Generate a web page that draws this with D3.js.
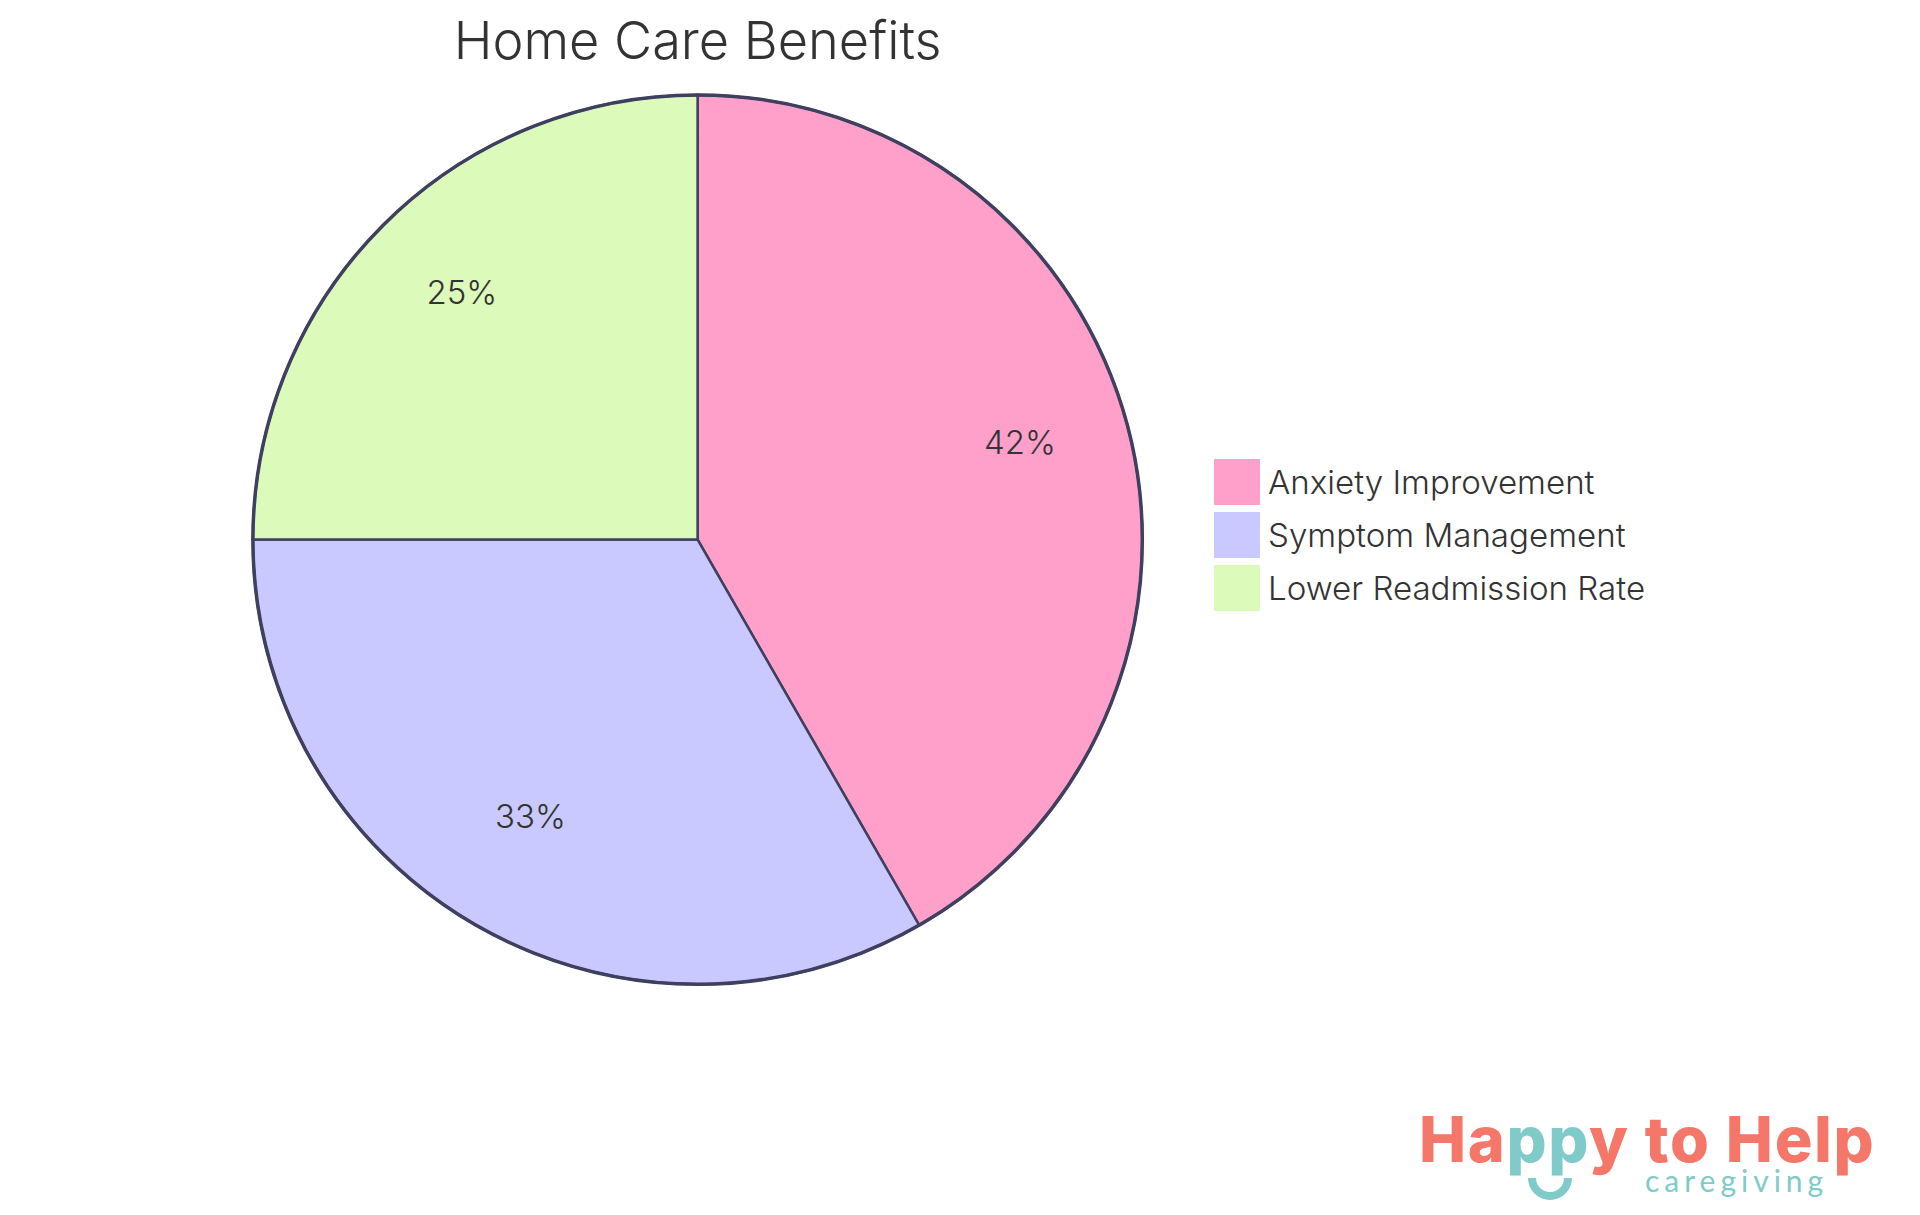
<!DOCTYPE html>
<html>
<head>
<meta charset="utf-8">
<script src="https://cdnjs.cloudflare.com/ajax/libs/d3/7.8.5/d3.min.js"></script>
<style>
	html, body { margin: 0; padding: 0; background: #fff; }
	svg { display: block; }
</style>
</head>
<body>
<script>
var categories = ["Anxiety Improvement", "Symptom Management", "Lower Readmission Rate"];
var shares = [41.7, 33.3, 25];
var sliceColors = ["#FFA0CB", "#C9C9FF", "#DCFABA"];
var titleText = "Home Care Benefits";

var width = 1920, height = 1215;
var cx = 697.6, cy = 539.6, radius = 444.7;
var textFont = "Inter, 'Noto Sans', sans-serif";
var strokeColor = "#3F4060";
var textColor = "#333333";

var svg = d3.select("body").append("svg")
	.attr("width", width)
	.attr("height", height)
	.style("background", "#fff");

// titulo
svg.append("text")
	.attr("x", cx)
	.attr("y", 59)
	.attr("text-anchor", "middle")
	.style("font-family", textFont)
	.style("font-size", "52.3px")
	.style("font-weight", 300)
	.style("fill", textColor)
	.text(titleText);

// tarta
var pie = d3.pie().sort(null).value(function(d){ return d; });
var arc = d3.arc().innerRadius(0).outerRadius(radius);
var labelArc = d3.arc().innerRadius(radius * 0.75).outerRadius(radius * 0.75);

var gPie = svg.append("g").attr("transform", "translate(" + cx + "," + cy + ")");
var arcs = pie(shares);

gPie.selectAll("path.slice")
	.data(arcs)
	.enter()
	.append("path")
	.attr("class", "slice")
	.attr("d", arc)
	.style("fill", function(d, i){ return sliceColors[i]; })
	.style("stroke", strokeColor)
	.style("stroke-width", 2.5);

gPie.append("circle")
	.attr("r", radius)
	.style("fill", "none")
	.style("stroke", strokeColor)
	.style("stroke-width", 3.5);

gPie.selectAll("text.pct")
	.data(arcs)
	.enter()
	.append("text")
	.attr("class", "pct")
	.attr("transform", function(d){ return "translate(" + labelArc.centroid(d) + ")"; })
	.attr("text-anchor", "middle")
	.style("font-family", textFont)
	.style("font-size", "33px")
	.style("font-weight", 300)
	.style("fill", textColor)
	.text(function(d){ return d3.format(".0f")(d.value) + "%"; });

// leyenda
var legendY = d3.scaleBand().domain(categories).range([459, 618]);

var legend = svg.selectAll("g.legend")
	.data(categories)
	.enter()
	.append("g")
	.attr("class", "legend")
	.attr("transform", function(d){ return "translate(1214," + legendY(d) + ")"; });

legend.append("rect")
	.attr("width", 46)
	.attr("height", 46)
	.style("fill", function(d, i){ return sliceColors[i]; });

legend.append("text")
	.attr("x", 54)
	.attr("y", 35)
	.style("font-family", textFont)
	.style("font-size", "33.1px")
	.style("font-weight", 300)
	.style("fill", textColor)
	.text(function(d){ return d; });

// logo
var logoFont = "Inter, 'Noto Sans', sans-serif";
var logoRed = "#F4776A", logoTeal = "#7FCBC9";

var logo = svg.append("text")
	.attr("x", 1419)
	.attr("y", 1162)
	.style("font-family", logoFont)
	.style("font-size", "63px")
	.style("font-weight", 800)
	.style("letter-spacing", "1.6px")
	.style("fill", logoRed);
logo.append("tspan").text("Ha");
logo.append("tspan").style("fill", logoTeal).text("pp");
logo.append("tspan").text("y to Help");

svg.append("path")
	.attr("d", d3.arc().innerRadius(14).outerRadius(22).startAngle(Math.PI / 2).endAngle(Math.PI * 1.5)())
	.attr("transform", "translate(1550,1178)")
	.style("fill", logoTeal);

svg.append("text")
	.attr("x", 1645)
	.attr("y", 1192)
	.style("font-family", "Lato, 'Noto Sans', sans-serif")
	.style("font-size", "30px")
	.style("font-weight", 400)
	.style("letter-spacing", "5px")
	.style("fill", logoTeal)
	.text("caregiving");
</script>
</body>
</html>
